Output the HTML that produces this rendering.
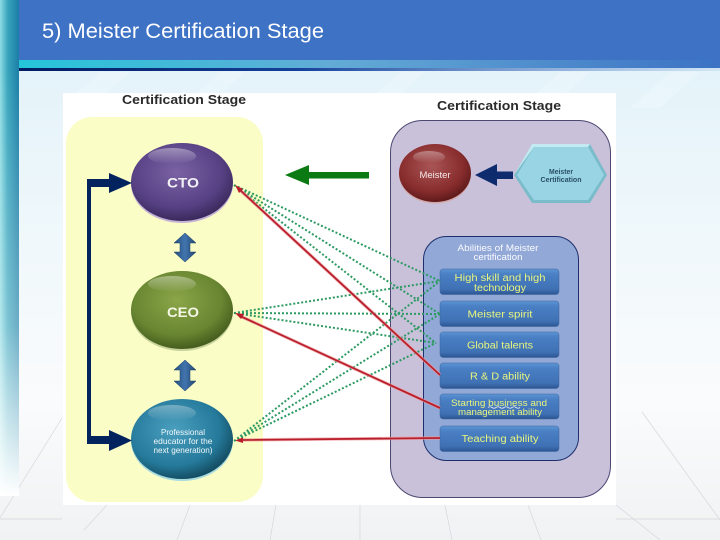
<!DOCTYPE html>
<html><head><meta charset="utf-8"><style>
html,body{margin:0;padding:0;width:720px;height:540px;overflow:hidden;background:#fff}
svg{display:block}
text{font-family:"Liberation Sans",sans-serif}
</style></head><body>
<svg width="720" height="540" viewBox="0 0 720 540" xmlns="http://www.w3.org/2000/svg">
<defs>
<linearGradient id="bg" x1="0" y1="0" x2="0" y2="1"><stop offset="0" stop-color="#dff1f9"/><stop offset=".45" stop-color="#f0f8fb"/><stop offset=".75" stop-color="#fafbfc"/><stop offset="1" stop-color="#f0f2f3"/></linearGradient>
<linearGradient id="strip" x1="0" y1="0" x2="1" y2="0"><stop offset="0" stop-color="#8fdde4"/><stop offset=".4" stop-color="#39a5bd"/><stop offset="1" stop-color="#1b7ea6"/></linearGradient>
<linearGradient id="stripfade" x1="0" y1="0" x2="0" y2="1"><stop offset="0" stop-color="#fff" stop-opacity="0"/><stop offset=".6" stop-color="#fff" stop-opacity=".35"/><stop offset="1" stop-color="#fff" stop-opacity="1"/></linearGradient>
<linearGradient id="band" x1="0" y1="0" x2="1" y2="0"><stop offset="0" stop-color="#25c6da"/><stop offset=".45" stop-color="#63abd6"/><stop offset="1" stop-color="#3d72c4"/></linearGradient>
<linearGradient id="band2" x1="0" y1="0" x2="1" y2="0"><stop offset="0" stop-color="#031b60"/><stop offset=".4" stop-color="#15419a"/><stop offset="1" stop-color="#3d72c4" stop-opacity=".1"/></linearGradient>
<radialGradient id="pu" cx=".45" cy=".38" r=".68"><stop offset="0" stop-color="#7a62a4"/><stop offset=".65" stop-color="#574184"/><stop offset="1" stop-color="#30224f"/></radialGradient>
<radialGradient id="gr" cx=".45" cy=".38" r=".68"><stop offset="0" stop-color="#8ba648"/><stop offset=".65" stop-color="#688531"/><stop offset="1" stop-color="#3a4f16"/></radialGradient>
<radialGradient id="bl" cx=".42" cy=".38" r=".7"><stop offset="0" stop-color="#4a9fbf"/><stop offset=".65" stop-color="#25799a"/><stop offset="1" stop-color="#0d3c4d"/></radialGradient>
<radialGradient id="re" cx=".45" cy=".38" r=".68"><stop offset="0" stop-color="#a95555"/><stop offset=".65" stop-color="#882c2d"/><stop offset="1" stop-color="#501415"/></radialGradient>
<linearGradient id="btn" x1="0" y1="0" x2="0" y2="1"><stop offset="0" stop-color="#5e95d4"/><stop offset=".2" stop-color="#4a80c4"/><stop offset=".8" stop-color="#3f70b4"/><stop offset="1" stop-color="#2c5590"/></linearGradient>
<linearGradient id="dbl" x1="0" y1="0" x2="1" y2="0"><stop offset="0" stop-color="#24507f"/><stop offset=".5" stop-color="#4274ad"/><stop offset="1" stop-color="#1f4673"/></linearGradient>
<linearGradient id="sheen" x1="0" y1="0" x2="0" y2="1"><stop offset="0" stop-color="#fff" stop-opacity=".55"/><stop offset="1" stop-color="#fff" stop-opacity="0"/></linearGradient>
</defs>

<rect width="720" height="540" fill="url(#bg)"/>
<g stroke="#d4d8db" stroke-width=".7" fill="none">
<path d="M0 518L62 418M84 530L107 505M177 540L190 505M270 540L276 505M360 540V505M445 505L452 540M528 505L541 540M616 505L660 540M642 412L720 520M0 519H62M616 519H720"/>
</g>
<g fill="#fff" opacity=".18"><path d="M100 72L60 108H90L130 72zM220 72L180 108H205L245 72zM400 72L360 108H385L425 72zM560 72L520 108H550L590 72zM670 72L630 108H660L700 72z"/></g>

<rect x="0" y="0" width="19" height="495" fill="url(#strip)"/>
<rect x="0" y="70" width="19" height="426" fill="url(#stripfade)"/>
<rect x="19" y="0" width="701" height="60" fill="#3d72c4"/>
<rect x="19" y="60" width="701" height="8" fill="url(#band)"/>
<rect x="19" y="68" width="701" height="3" fill="url(#band2)"/>
<text x="42" y="38" font-size="21" fill="#fff" textLength="282" lengthAdjust="spacingAndGlyphs">5) Meister Certification Stage</text>

<rect x="63" y="93" width="553" height="412" fill="#fff"/>
<rect x="66" y="117" width="197" height="385" rx="26" fill="#fbfdc6"/>
<rect x="390.500" y="120.500" width="220" height="377" rx="32" fill="#c9c1da" stroke="#4c4872" stroke-width="1"/>
<text x="122" y="104" font-size="13" font-weight="bold" fill="#2b2b2b" textLength="124" lengthAdjust="spacingAndGlyphs">Certification Stage</text>
<text x="437" y="110" font-size="13" font-weight="bold" fill="#2b2b2b" textLength="124" lengthAdjust="spacingAndGlyphs">Certification Stage</text>

<rect x="423.500" y="236.500" width="155" height="224" rx="23" fill="#92a8d6" stroke="#1d2f6c" stroke-width="1"/>
<g fill="#fbfbff" font-size="9" text-anchor="middle">
<text x="498" y="251" textLength="81" lengthAdjust="spacingAndGlyphs">Abilities of Meister</text>
<text x="498" y="260" textLength="49" lengthAdjust="spacingAndGlyphs">certification</text>
</g>

<g fill="url(#btn)" stroke="#3a659f" stroke-width=".5">
<rect x="440" y="269" width="119" height="25.500" rx="3"/>
<rect x="440" y="301" width="119" height="25.500" rx="3"/>
<rect x="440" y="332" width="119" height="25.500" rx="3"/>
<rect x="440" y="363" width="119" height="25.500" rx="3"/>
<rect x="440" y="394" width="119" height="25" rx="3"/>
<rect x="440" y="426" width="119" height="25.500" rx="3"/>
</g>
<g fill="#e8f57e" font-size="10" text-anchor="middle">
<text x="500" y="281" textLength="91" lengthAdjust="spacingAndGlyphs">High skill and high</text>
<text x="500" y="291" textLength="52" lengthAdjust="spacingAndGlyphs">technology</text>
<text x="500" y="317.500" textLength="65" lengthAdjust="spacingAndGlyphs">Meister spirit</text>
<text x="500" y="348.500" textLength="66" lengthAdjust="spacingAndGlyphs">Global talents</text>
<text x="500" y="379.500" textLength="60" lengthAdjust="spacingAndGlyphs">R &amp; D ability</text>
<text x="499" y="406" font-size="9" textLength="96" lengthAdjust="spacingAndGlyphs">Starting business and</text>
<text x="500" y="415" font-size="9" textLength="84" lengthAdjust="spacingAndGlyphs">management ability</text>
<text x="500" y="442" textLength="77" lengthAdjust="spacingAndGlyphs">Teaching ability</text>
</g>
<path d="M488 407.500q2 -1.500 4 0t4 0t4 0t4 0t4 0t4 0t4 0t4 0" fill="none" stroke="#f4f4f4" stroke-width=".8"/>

<g stroke="#2e9a63" stroke-width="2" stroke-dasharray="2 2" fill="none">
<path d="M234 185L440 281M234 185L440 314M234 185L436 343"/>
<path d="M234 313L440 281M234 313L440 314M234 313L436 343"/>
<path d="M234 441L440 281M234 441L440 314M234 441L436 343"/>
</g>

<g fill="none" stroke="#ee9a9f" stroke-width="3.400" opacity=".7">
<path d="M240 190L440 375M240 316L440 408M240 440L440 438"/>
</g>
<g fill="none" stroke="#b91f2b" stroke-width="1.800">
<path d="M240 190L440 375M240 316L440 408M240 440L440 438"/>
</g>
<g fill="#b91f2b">
<path d="M235 185L243 189L239 193z"/>
<path d="M235 313L244 314L241 319z"/>
<path d="M235 440.500L243 437.500L243 443z"/>
</g>

<ellipse cx="182" cy="184" rx="51" ry="39" fill="#c4b3d6"/>
<ellipse cx="182" cy="182" rx="51" ry="39" fill="url(#pu)"/>
<ellipse cx="172" cy="156" rx="24" ry="8" fill="url(#sheen)" opacity=".7"/>
<text x="183" y="187.500" font-size="14" font-weight="bold" fill="#f2f2f6" text-anchor="middle" textLength="32" lengthAdjust="spacingAndGlyphs">CTO</text>

<ellipse cx="182" cy="312" rx="51" ry="39" fill="#c7d29c"/>
<ellipse cx="182" cy="310" rx="51" ry="39" fill="url(#gr)"/>
<ellipse cx="172" cy="284" rx="24" ry="8" fill="url(#sheen)" opacity=".7"/>
<text x="183" y="317" font-size="14" font-weight="bold" fill="#f4f6e6" text-anchor="middle" textLength="32" lengthAdjust="spacingAndGlyphs">CEO</text>

<ellipse cx="182" cy="441" rx="51" ry="40" fill="#a8dbe0"/>
<ellipse cx="182" cy="439" rx="51" ry="40" fill="url(#bl)"/>
<ellipse cx="172" cy="413" rx="24" ry="8" fill="url(#sheen)" opacity=".6"/>
<g fill="#f0f8fb" font-size="8.500" text-anchor="middle">
<text x="183" y="435" textLength="44" lengthAdjust="spacingAndGlyphs">Professional</text>
<text x="183" y="444" textLength="59" lengthAdjust="spacingAndGlyphs">educator for the</text>
<text x="183" y="453" textLength="59" lengthAdjust="spacingAndGlyphs">next generation)</text>
</g>

<ellipse cx="435" cy="174.500" rx="36" ry="29" fill="#d3a6a6"/>
<ellipse cx="435" cy="173" rx="36" ry="29" fill="url(#re)"/>
<ellipse cx="429" cy="157" rx="16" ry="6" fill="url(#sheen)" opacity=".65"/>
<text x="435" y="178" font-size="9.500" fill="#f5eaea" text-anchor="middle" textLength="31" lengthAdjust="spacingAndGlyphs">Meister</text>

<path d="M514 175L532 144H590L607 175L590 203H532z" fill="#7bbccb"/>
<path d="M517 175L534 147H588L604 175L588 200H534z" fill="#98d4e4"/>
<path d="M514 175L532 144H590L588 147H534z" fill="#c3e9f1"/>
<text x="561" y="174" font-size="7" font-weight="bold" fill="#2b4f68" text-anchor="middle" textLength="24" lengthAdjust="spacingAndGlyphs">Meister</text>
<text x="561" y="182" font-size="7" font-weight="bold" fill="#2b4f68" text-anchor="middle" textLength="41" lengthAdjust="spacingAndGlyphs">Certification</text>

<path d="M285 175L309 165V172H369V178.500H309V185z" fill="#0b7a12"/>
<path d="M475 175L497 164V171.500H513V179H497V186z" fill="#0e2b6e"/>

<path d="M87 443V179H109V173L132 183L109 193V187H91V436H109V430L132 440.500L109 451V444H87z" fill="#03235f"/>

<path d="M185 233L196 243H190V252H196L185 262L174 252H180V243H174z" fill="url(#dbl)" stroke="#1d3c66" stroke-width=".5"/>
<path d="M185 360L196 370H190V381H196L185 391L174 381H180V370H174z" fill="url(#dbl)" stroke="#1d3c66" stroke-width=".5"/>
</svg>
</body></html>
